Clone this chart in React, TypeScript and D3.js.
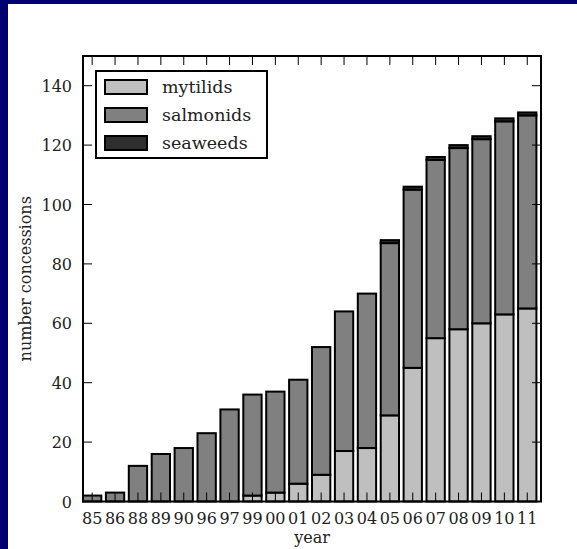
import React from "react";
import * as d3 from "d3";

const years = ["85", "86", "88", "89", "90", "96", "97", "99", "00", "01", "02", "03", "04", "05", "06", "07", "08", "09", "10", "11"];
const mytilids = [0, 0, 0, 0, 0, 0, 0, 2, 3, 6, 9, 17, 18, 29, 45, 55, 58, 60, 63, 65];
const salmonids = [2, 3, 12, 16, 18, 23, 31, 34, 34, 35, 43, 47, 52, 58, 60, 60, 61, 62, 65, 65];
const seaweeds = [0, 0, 0, 0, 0, 0, 0, 0, 0, 0, 0, 0, 0, 1, 1, 1, 1, 1, 1, 1];
const yTicks = [0, 20, 40, 60, 80, 100, 120, 140];
const seriesNames = ["mytilids", "salmonids", "seaweeds"];
const colors = ["#bfbfbf", "#808080", "#2e2e2e"];

const App = () => {
  const width = 577;
  const height = 549;
  const left = 83, right = 541, top = 56, bottom = 501.5;
  const font = "'DejaVu Serif', serif";

  const x = d3.scaleLinear().domain([0, years.length]).range([left, right]);
  const y = d3.scaleLinear().domain([0, 150]).range([bottom, top]);

  const rows = years.map((yr, i) => ({ yr, mytilids: mytilids[i], salmonids: salmonids[i], seaweeds: seaweeds[i] }));
  const stacked = d3.stack<any>().keys(seriesNames)(rows);

  return (
    <svg width={width} height={height} style={{ position: "absolute", left: 0, top: 0 }}>
      <rect x={0} y={0} width={width} height={height} fill="#fff" />
      <rect x={0} y={0} width={8} height={height} fill="#000070" />
      <rect x={0} y={0} width={width} height={4} fill="#000070" />

      {stacked.map((s, k) => (
        <g key={s.key}>
          {s.map((d, i) =>
            d[1] - d[0] > 0 ? (
              <rect
                key={i}
                x={x(i)}
                width={x(0.8) - x(0)}
                y={y(d[1])}
                height={y(d[0]) - y(d[1])}
                fill={colors[k]}
                stroke="#000"
                strokeWidth={2}
              />
            ) : null
          )}
        </g>
      ))}

      {/* ticks, inward on all sides */}
      {years.map((yr, i) => (
        <g key={yr} stroke="#000" strokeWidth={1}>
          <line x1={x(i + 0.4)} x2={x(i + 0.4)} y1={bottom} y2={bottom - 9} />
          <line x1={x(i + 0.4)} x2={x(i + 0.4)} y1={top} y2={top + 9} />
        </g>
      ))}
      {yTicks.map((t) => (
        <g key={t} stroke="#000" strokeWidth={1}>
          <line x1={left} x2={left + 9} y1={y(t)} y2={y(t)} />
          <line x1={right} x2={right - 9} y1={y(t)} y2={y(t)} />
        </g>
      ))}

      <rect x={left} y={top} width={right - left} height={bottom - top} fill="none" stroke="#000" strokeWidth={2} />

      {years.map((yr, i) => (
        <text key={yr} x={x(i + 0.4)} y={bottom + 22} textAnchor="middle" fontFamily={font} fontSize={16} fill="#222">
          {yr}
        </text>
      ))}
      {yTicks.map((t) => (
        <text key={t} x={left - 11} y={y(t) + 6} textAnchor="end" fontFamily={font} fontSize={16} fill="#222">
          {t}
        </text>
      ))}

      <text x={(left + right) / 2} y={543} textAnchor="middle" fontFamily={font} fontSize={16} fill="#222">
        year
      </text>
      <text transform={`translate(31, ${(top + bottom) / 2}) rotate(-90)`} textAnchor="middle" fontFamily={font} fontSize={16} fill="#222">
        number concessions
      </text>

      {/* legend */}
      <rect x={96} y={71} width={171} height={87} fill="#fff" stroke="#000" strokeWidth={2} />
      {seriesNames.map((n, k) => (
        <g key={n}>
          <rect x={105} y={80 + k * 28} width={42} height={14} fill={colors[k]} stroke="#000" strokeWidth={2} />
          <text x={162} y={93 + k * 28} fontFamily={font} fontSize={17.5} fill="#222">
            {n}
          </text>
        </g>
      ))}
    </svg>
  );
};

export default App;
